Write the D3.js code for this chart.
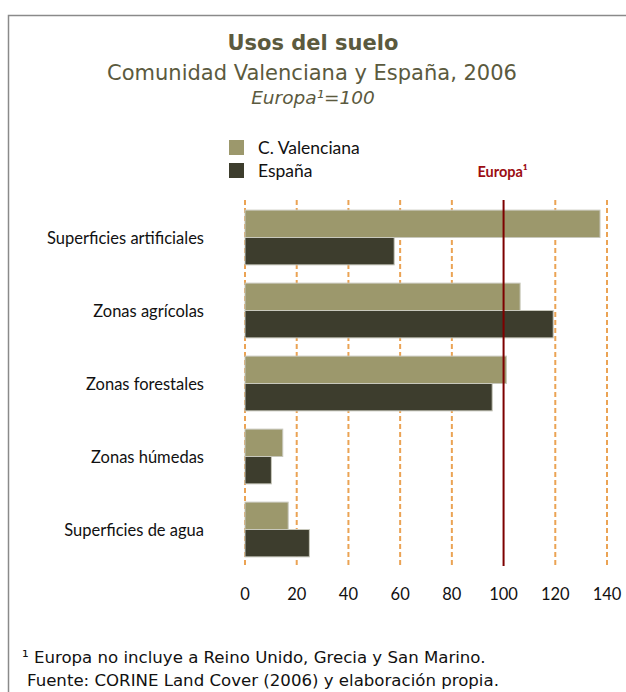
<!DOCTYPE html>
<html>
<head>
<meta charset="utf-8">
<script src="https://cdn.jsdelivr.net/npm/d3@7"></script>
<style>
  html, body { margin: 0; padding: 0; background: #fff; }
  svg { display: block; }
</style>
</head>
<body>
<div id="chart"></div>
<script>
  // data
  var categories = ["Superficies artificiales", "Zonas agrícolas", "Zonas forestales",
                    "Zonas húmedas", "Superficies de agua"];
  var seriesNames = ["C. Valenciana", "España"];
  var valenciana = [137.3, 106.4, 101.1, 14.6, 16.7];
  var espana = [57.7, 119.2, 95.6, 10.2, 24.9];
  var ticks = [0, 20, 40, 60, 80, 100, 120, 140];
  var europa = 100;

  var W = 626, H = 692;
  var colors = ["#9c986c", "#3d3d2d"];

  var svg = d3.select("#chart").append("svg")
      .attr("width", W).attr("height", H);

  // frame
  svg.append("rect")
      .attr("x", 8.5).attr("y", 15.5)
      .attr("width", W).attr("height", H)
      .attr("fill", "none").attr("stroke", "#8a8a8a").attr("stroke-width", 1.5);

  // titles
  var titleColor = "#5b5a3e";
  svg.append("text").attr("x", 313).attr("y", 50)
      .attr("text-anchor", "middle")
      .style("font-family", "DejaVu Sans").style("font-weight", "bold")
      .style("font-size", "21px").attr("fill", titleColor)
      .text("Usos del suelo");
  svg.append("text").attr("x", 312).attr("y", 80)
      .attr("text-anchor", "middle")
      .style("font-family", "DejaVu Sans").style("font-size", "21px")
      .attr("fill", titleColor)
      .text("Comunidad Valenciana y España, 2006");
  svg.append("text").attr("x", 313).attr("y", 104)
      .attr("text-anchor", "middle")
      .style("font-family", "DejaVu Sans").style("font-style", "italic")
      .style("font-size", "18.5px").attr("fill", titleColor)
      .text("Europa¹=100");

  // scales
  var x = d3.scaleLinear().domain([0, 140]).range([245, 607]);
  var y = d3.scaleBand().domain(categories).range([201, 566]).paddingInner(0.25).paddingOuter(0.125);
  var ySub = d3.scaleBand().domain(seriesNames).range([0, y.bandwidth()]);

  // gridlines
  svg.append("g").selectAll("line")
      .data(ticks.filter(function (t) { return t !== europa; }))
      .enter().append("line")
      .attr("x1", function (d) { return x(d); })
      .attr("x2", function (d) { return x(d); })
      .attr("y1", 200).attr("y2", 566)
      .attr("stroke", "#eba354").attr("stroke-width", 2)
      .attr("stroke-dasharray", "5,3");

  // bars
  var rows = categories.map(function (c, i) {
    return [{cat: c, s: seriesNames[0], v: valenciana[i]},
            {cat: c, s: seriesNames[1], v: espana[i]}];
  });
  var groups = svg.append("g").selectAll("g")
      .data(rows).enter().append("g")
      .attr("transform", function (d) { return "translate(0," + y(d[0].cat) + ")"; });
  groups.selectAll("rect")
      .data(function (d) { return d; })
      .enter().append("rect")
      .attr("x", x(0))
      .attr("y", function (d) { return ySub(d.s); })
      .attr("width", function (d) { return x(d.v) - x(0); })
      .attr("height", ySub.bandwidth())
      .attr("fill", function (d, i) { return colors[i]; })
      .attr("stroke", "#c8c8bc").attr("stroke-width", 1);

  // Europa reference line
  svg.append("line")
      .attr("x1", x(europa)).attr("x2", x(europa))
      .attr("y1", 200).attr("y2", 566)
      .attr("stroke", "#7d0000").attr("stroke-width", 2);
  svg.append("text")
      .attr("x", x(europa) - 1).attr("y", 177)
      .attr("text-anchor", "middle")
      .style("font-family", "Lato").style("font-weight", "bold")
      .style("font-size", "14.5px").attr("fill", "#9b0d12")
      .text("Europa¹");

  // category labels
  svg.append("g").selectAll("text")
      .data(categories).enter().append("text")
      .attr("x", 204)
      .attr("y", function (d) { return y(d) + y.bandwidth() / 2 + 6; })
      .attr("text-anchor", "end")
      .style("font-family", "Lato").style("font-size", "16.5px")
      .attr("fill", "#111")
      .text(function (d) { return d; });

  // x axis labels
  svg.append("g").selectAll("text")
      .data(ticks).enter().append("text")
      .attr("x", function (d) { return x(d); })
      .attr("y", 600)
      .attr("text-anchor", "middle")
      .style("font-family", "Lato").style("font-size", "16.5px")
      .attr("fill", "#111")
      .text(function (d) { return d; });

  // legend
  var legend = svg.append("g").selectAll("g")
      .data(seriesNames).enter().append("g")
      .attr("transform", function (d, i) { return "translate(229," + (140 + i * 23) + ")"; });
  legend.append("rect")
      .attr("width", 15).attr("height", 15)
      .attr("fill", function (d, i) { return colors[i]; });
  legend.append("text")
      .attr("x", 29).attr("y", 14)
      .style("font-family", "Lato").style("font-size", "17.5px")
      .attr("fill", "#111")
      .text(function (d) { return d; });

  // notes
  svg.append("text").attr("x", 22).attr("y", 663)
      .style("font-family", "DejaVu Sans").style("font-size", "16.6px")
      .attr("fill", "#111")
      .text("¹ Europa no incluye a Reino Unido, Grecia y San Marino.");
  svg.append("text").attr("x", 27).attr("y", 686)
      .style("font-family", "DejaVu Sans").style("font-size", "16.6px")
      .attr("fill", "#111")
      .text("Fuente: CORINE Land Cover (2006) y elaboración propia.");
</script>
</body>
</html>
